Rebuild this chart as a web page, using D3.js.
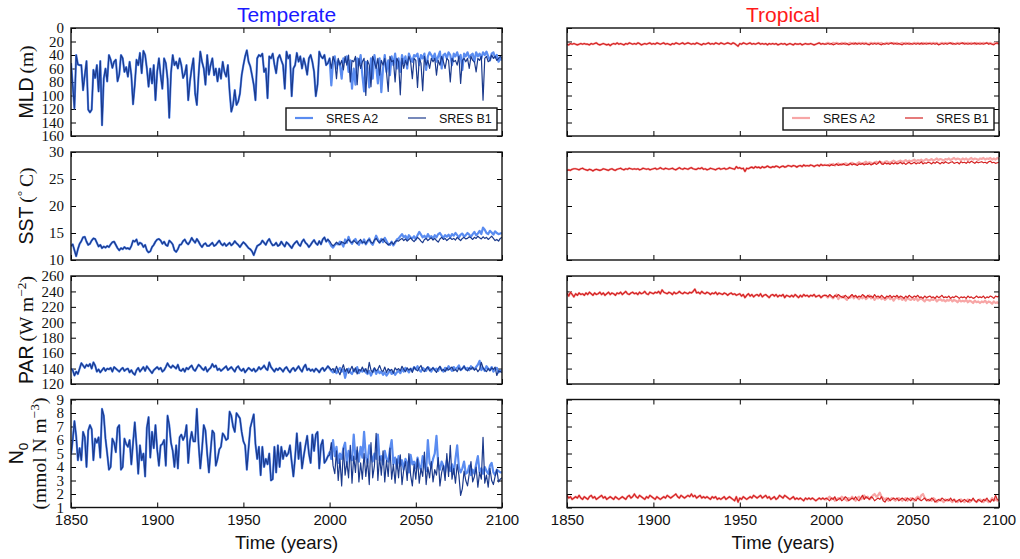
<!DOCTYPE html>
<html>
<head>
<meta charset="utf-8">
<script src="https://cdn.jsdelivr.net/npm/d3@7"></script>
<style>
body { margin: 0; background: #fff; }
</style>
</head>
<body>
<div class="chart"></div>
<script>

var width = 1020,
  height = 559;

// x axis
var firstYear = 1850, lastYear = 2100;
var xTicks = [1850, 1900, 1950, 2000, 2050, 2100];
var colTitles = ['Temperate', 'Tropical'];
var seriesNames = ['SRES A2', 'SRES B1'];

// y ticks per row
var mldTicks = [0, 20, 40, 60, 80, 100, 120, 140, 160];
var sstTicks = [10, 15, 20, 25, 30];
var parTicks = [120, 140, 160, 180, 200, 220, 240, 260];
var n0Ticks = [1, 2, 3, 4, 5, 6, 7, 8, 9];

// ---- TEMPERATE ----  hist = 1850..1999, A2/B1 = 2000..2100
var tmpMldHist = [52,85,119,40,54,55,55,92,70,49, 121,125,121,62,74,55,94,49,144,75,
  60,79,40,47,59,50,47,79,69,40, 45,65,58,72,50,70,113,84,47,55,
  37,67,34,40,60,87,60,82,55,107, 65,45,70,90,45,52,75,133,67,40,
  55,50,60,45,55,74,68,55,107,79, 60,45,97,114,70,35,50,60,84,40,
  69,55,45,70,60,79,60,75,50,65, 72,55,94,124,114,92,114,109,97,70,
  55,42,33,50,57,70,84,107,45,40, 42,38,65,60,104,42,45,38,54,67,
  45,40,48,55,90,35,45,40,101,60, 55,37,50,42,60,45,55,69,45,40,
  50,65,101,84,35,42,45,40,55,52];
var tmpMldA2 = [45,85,50,42,60,48,55,75,45,50, 42,65,48,90,60,84,45,55,40,70,
  94,50,60,88,45,75,40,55,82,45, 95,60,40,65,48,70,42,55,38,60,
  45,65,40,52,42,60,38,45,50,40, 42,38,55,40,45,38,62,42,36,40,
  45,38,50,42,35,60,40,38,45,36, 40,55,38,42,36,45,40,62,38,42,
  36,44,40,38,50,36,42,38,45,36, 40,35,42,48,38,36,44,40,50,45, 48];
var tmpMldB1 = [45,60,42,50,75,45,55,48,62,42, 55,40,80,48,50,42,84,45,60,50,
  45,100,48,55,87,42,50,60,45,70, 48,55,45,65,94,42,50,48,80,45,
  50,99,45,60,48,55,42,50,75,45, 48,88,45,52,93,42,55,48,60,45,
  50,45,70,48,55,42,50,60,45,48, 80,45,50,48,55,42,82,48,45,50,
  45,60,42,48,50,65,45,48,42,107, 45,42,50,48,40,45,42,48,45,42, 45];

var tmpSstHist = [12.6,12.9,11.8,10.7,12.0,13.0,13.5,14.2,14.3,13.4, 12.8,13.0,13.6,14.0,13.9,13.2,12.5,12.8,12.2,12.5,
  12.3,12.6,12.4,12.9,13.3,13.4,12.8,12.2,11.8,12.2, 12.0,12.4,12.1,12.2,12.0,12.6,13.6,13.4,13.8,12.8,
  13.2,13.0,12.4,12.8,11.8,11.4,11.6,12.4,12.8,13.4, 13.8,13.9,13.6,13.0,13.4,12.8,12.6,13.6,13.3,12.9,
  11.8,11.5,12.0,12.8,12.9,13.5,13.8,13.2,12.9,13.4, 14.1,13.6,13.2,13.9,13.4,12.8,12.4,12.9,13.1,12.6,
  12.6,12.9,13.2,12.6,12.8,13.2,13.6,13.0,12.7,13.1, 12.6,12.9,13.2,12.7,13.0,13.5,13.1,12.8,12.4,12.9,
  13.3,13.0,12.6,12.2,12.0,11.6,10.9,11.8,12.6,12.8, 13.0,13.6,13.2,12.8,13.5,13.9,13.2,12.7,12.8,13.2,
  12.6,12.8,13.4,12.9,12.5,13.3,13.0,12.6,12.2,12.8, 13.2,13.5,12.9,12.6,13.4,13.8,13.2,12.9,12.4,12.8,
  13.3,13.7,13.1,12.8,13.5,12.9,13.8,14.2,13.4,13.8];
var tmpSstA2 = [13.2,12.6,12.3,12.8,13.0,12.9,13.4,13.1,12.5,13.8, 13.2,14.3,13.4,13.0,13.6,13.9,13.2,12.8,13.5,13.1,
  13.8,12.9,13.4,14.0,13.2,12.8,13.6,14.5,13.8,13.2, 13.9,13.3,14.1,13.5,12.9,12.8,13.4,12.7,13.2,13.8,
  14.0,14.4,14.8,14.2,14.5,13.8,14.6,14.2,14.0,14.4, 13.8,14.6,15.2,14.7,14.2,14.5,14.0,14.8,14.2,14.4,
  14.0,14.6,14.2,14.8,15.0,14.5,14.1,14.6,14.3,14.7, 14.2,14.8,14.5,15.0,14.6,14.2,14.7,14.9,14.3,14.6,
  15.0,14.7,14.3,14.8,15.2,14.6,14.9,15.4,14.8,16.0, 15.6,15.0,14.8,15.4,15.1,14.7,15.3,15.0,14.8,14.9, 15.0];
var tmpSstB1 = [13.5,13.0,12.6,12.9,13.3,13.0,12.8,13.4,13.2,13.0, 13.5,13.8,13.4,13.2,13.6,13.3,13.0,13.5,13.8,13.2,
  13.4,13.0,13.6,13.8,13.3,13.1,13.7,14.0,13.5,13.2, 13.6,13.9,13.4,13.1,12.8,13.0,13.3,12.9,13.4,13.6,
  13.5,13.8,14.0,13.6,13.9,13.5,13.8,14.1,13.7,13.4, 13.8,14.2,13.9,13.5,13.2,13.8,14.0,13.6,13.9,14.1,
  13.7,14.0,13.6,13.3,13.9,14.2,13.8,14.0,13.6,13.9, 14.1,13.8,14.0,13.7,14.2,13.9,13.6,14.0,14.2,13.9,
  14.0,14.3,14.1,13.8,14.2,14.0,14.4,14.1,13.9,14.3, 14.0,14.2,13.8,14.1,14.4,14.0,13.6,13.8,13.5,14.0, 14.2];

var tmpParHist = [140,138,131,136,133,140,147,144,141,145, 143,146,140,148,144,136,139,135,138,141,
  137,140,139,141,136,142,140,138,136,139, 141,137,139,140,135,138,134,132,138,141,
  136,139,142,137,143,140,137,134,138,140, 142,139,141,136,138,142,147,143,141,144,
  142,140,145,138,137,140,136,141,139,142, 144,139,137,141,145,143,140,138,142,136,
  139,141,146,142,144,138,140,137,139,141, 143,138,140,142,139,136,141,143,139,137,
  140,135,138,141,139,137,140,136,138,142, 139,141,144,140,138,148,142,139,136,140,
  138,141,139,136,140,142,138,135,139,141, 137,140,143,139,136,142,145,138,140,137,
  139,136,140,138,135,139,141,137,140,143];
var tmpParA2 = [140,137,135,139,134,138,141,136,139,128, 137,140,135,133,139,136,142,134,138,136,
  139,135,133,137,131,136,140,133,138,134, 136,132,135,131,134,138,133,136,132,135,
  137,134,139,136,141,138,135,140,137,142, 139,143,138,136,141,139,137,142,140,136,
  141,138,140,137,142,139,136,141,138,143, 140,137,142,139,141,144,138,140,143,139,
  141,138,143,140,139,142,145,150,138,141, 137,143,140,138,142,136,139,141,135,137, 138];
var tmpParB1 = [141,138,140,135,143,137,132,139,145,136, 140,134,138,143,136,141,133,139,137,142,
  136,140,134,148,138,135,141,137,139,144, 138,136,142,135,140,137,139,134,141,138,
  140,137,143,139,136,141,138,140,135,142, 139,137,141,144,138,136,140,142,137,139,
  141,138,135,140,143,137,139,136,141,138, 140,142,137,139,136,141,138,140,143,139,
  137,141,139,142,138,140,136,139,148,141, 138,136,140,137,141,139,142,131,137,136, 135];

var tmpN0Hist = [4.9,6.0,7.4,6.3,4.5,5.4,4.5,6.6,6.2,4.0, 6.7,7.1,6.8,4.5,6.1,5.8,6.2,4.7,8.3,7.8,
  6.1,5.0,3.8,4.0,6.1,5.8,5.1,6.9,7.1,3.8, 4.0,6.1,5.7,5.5,6.0,4.2,5.8,7.3,5.6,3.5,
  5.6,4.5,5.0,3.3,6.9,7.7,4.7,6.6,5.4,7.1, 5.3,4.1,5.6,5.7,6.0,4.1,7.8,7.1,5.8,5.2,
  4.0,5.6,3.9,6.2,6.4,6.0,6.3,7.1,4.3,5.9, 6.6,5.9,5.9,8.3,5.7,3.9,5.3,7.1,6.7,5.0,
  3.6,5.2,6.7,6.5,4.1,4.6,5.3,5.5,6.5,6.3, 6.0,6.1,8.1,7.8,7.0,6.6,8.0,7.8,7.6,6.6,
  5.9,5.6,3.8,5.4,6.9,7.4,7.9,5.7,4.6,5.5, 3.4,5.5,4.0,4.6,4.2,5.0,3.0,3.1,5.5,3.6,
  5.6,4.0,5.5,4.6,5.2,4.8,5.0,5.6,4.4,3.3, 4.7,6.5,4.6,5.8,3.9,4.8,5.6,6.3,5.0,4.3,
  6.4,5.2,6.4,6.6,3.9,5.6,6.0,4.3,4.5,4.8];
var tmpN0A2 = [5.1,4.6,6.0,4.8,5.5,4.3,5.0,4.6,5.4,5.8, 4.2,5.2,4.8,4.5,6.4,4.6,5.2,4.4,5.5,4.7,
  6.6,4.8,4.3,5.6,4.9,4.4,5.0,4.6,6.4,4.5, 4.8,4.2,5.2,4.6,4.4,5.3,6.0,4.2,4.7,3.9,
  4.8,4.1,4.5,3.8,4.6,4.3,3.6,4.9,4.2,4.4, 3.9,4.7,4.1,3.8,4.8,4.2,3.7,6.0,4.3,4.0,
  4.6,5.0,6.3,4.2,3.8,4.4,4.1,3.6,4.5,4.0, 3.7,4.2,3.5,4.6,5.6,4.0,3.6,3.9,4.4,3.5,
  3.6,4.1,3.4,3.8,3.5,4.2,4.8,3.6,3.9,3.5, 4.0,3.7,3.5,4.1,4.3,3.6,3.4,3.8,3.7,3.6, 3.6];
var tmpN0B1 = [4.9,5.8,4.1,3.5,5.2,3.0,4.6,2.6,5.4,3.4, 4.4,3.2,5.6,2.8,4.8,3.6,5.5,2.9,4.3,3.1,
  5.0,3.3,4.6,2.7,5.8,3.2,4.1,6.5,3.0,4.8, 3.4,5.2,2.9,4.5,3.3,5.4,3.1,4.2,2.8,4.6,
  3.2,4.9,2.7,3.8,4.4,3.0,5.0,3.4,2.6,4.2, 3.1,4.6,2.8,3.9,3.3,5.1,2.7,4.0,3.2,4.4,
  2.9,3.8,3.4,4.7,2.6,3.6,4.1,3.0,5.0,3.3, 5.6,3.1,3.9,2.8,4.2,3.4,1.9,2.4,3.7,3.0,
  2.6,3.5,4.4,2.9,3.3,4.0,2.5,3.6,3.1,6.2, 2.8,3.4,2.5,3.9,3.0,2.7,3.3,3.8,2.9,3.1, 3.2];

// ---- TROPICAL ----
var trpMldHist = [24,25,23,24,23,24,25,24,23,24, 23,24,24,25,23,24,23,22,24,25,
  24,23,24,25,24,26,24,23,24,22, 24,23,24,25,23,24,22,23,24,23,
  24,22,23,25,24,23,24,23,22,24, 23,24,22,23,24,23,22,24,23,24,
  25,23,24,22,23,24,23,22,24,23, 22,23,24,23,24,22,23,24,25,23,
  24,23,22,24,23,24,22,23,24,22, 23,24,23,22,23,24,22,23,25,27,
  23,24,22,23,24,23,22,24,23,24, 23,22,24,23,24,23,25,23,24,23,
  24,23,25,24,23,24,23,25,24,23, 24,25,23,24,24,23,25,24,23,24,
  24,23,24,25,24,23,22,24,23,24];
var trpMldA2 = [23,22,23,24,22,23,22,23,24,22, 23,22,24,23,22,23,22,24,23,22,
  23,22,23,22,24,23,22,23,22,23, 22,23,22,24,23,22,23,22,23,22,
  23,22,24,23,22,23,22,23,22,24, 23,22,23,22,23,24,22,23,22,23,
  22,23,22,23,22,24,23,22,23,22, 23,22,23,22,24,23,22,23,22,23,
  22,23,22,23,22,23,24,22,23,22, 23,22,23,22,23,22,24,23,22,23, 22];
var trpMldB1 = [24,23,24,23,25,24,23,24,23,24, 23,24,23,25,24,23,24,22,24,23,
  24,23,24,23,24,25,23,24,23,24, 23,24,25,23,24,23,24,23,22,24,
  23,24,23,24,25,23,24,23,24,23, 24,23,24,23,24,22,24,23,24,23,
  23,24,23,24,23,25,24,23,24,23, 24,23,22,24,23,24,23,24,23,22,
  24,23,24,23,24,23,22,24,23,24, 23,24,23,22,24,23,24,25,23,22, 24];

var trpSstHist = [26.6,26.7,26.6,26.8,26.9,26.9,26.8,26.7,26.9,27.0, 26.8,26.7,26.6,26.8,26.7,26.5,26.7,26.8,26.7,26.6,
  26.7,26.9,26.8,26.7,26.6,26.8,26.9,26.7,26.6,26.8, 26.9,27.0,26.8,26.7,26.9,26.8,27.0,26.9,26.8,26.9,
  26.8,26.9,26.7,26.8,27.0,26.9,26.8,26.9,26.7,26.8, 26.9,27.0,26.8,26.9,27.1,26.9,26.8,27.0,26.9,26.8,
  26.9,27.0,26.8,26.7,26.9,27.1,26.9,26.8,27.0,26.9, 26.8,27.0,27.1,26.9,26.8,26.8,27.0,26.9,27.1,26.8,
  26.9,26.7,26.8,27.0,26.9,26.8,26.7,26.9,27.0,26.8, 26.9,27.0,26.8,26.9,27.1,27.0,26.9,26.8,27.3,27.0,
  27.1,26.9,27.0,26.4,27.0,26.9,27.1,27.2,27.0,27.3, 27.1,27.2,27.0,27.3,27.1,27.2,27.4,27.2,27.1,27.3,
  27.2,27.4,27.3,27.1,27.3,27.4,27.2,27.3,27.5,27.4, 27.3,27.5,27.4,27.2,27.4,27.5,27.3,27.6,27.4,27.5,
  27.4,27.6,27.5,27.3,27.5,27.6,27.4,27.7,27.5,27.6];
var trpSstA2 = [27.6,27.5,27.7,27.6,27.8,27.5,27.7,27.9,27.6,27.8, 27.7,27.9,27.8,27.6,27.9,28.0,27.8,27.7,27.9,28.1,
  27.9,27.8,28.0,28.2,27.9,28.1,28.0,27.8,28.1,28.2, 28.0,28.2,28.1,27.9,28.2,28.3,28.1,28.0,28.2,28.4,
  28.2,28.1,28.3,28.4,28.2,28.3,28.5,28.2,28.4,28.3, 28.4,28.6,28.3,28.5,28.4,28.6,28.3,28.5,28.7,28.4,
  28.5,28.7,28.4,28.6,28.8,28.5,28.7,28.6,28.4,28.7, 28.6,28.8,28.5,28.7,28.9,28.6,28.8,28.7,28.5,28.8,
  28.6,28.8,28.5,28.7,28.9,28.6,28.8,28.7,28.5,28.8, 28.7,28.9,28.6,28.8,28.7,28.9,28.6,28.8,28.6,28.9, 28.7];
var trpSstB1 = [27.5,27.6,27.4,27.7,27.5,27.6,27.8,27.5,27.7,27.6, 27.8,27.6,27.5,27.7,27.9,27.6,27.8,27.7,27.5,27.8,
  27.7,27.9,27.6,27.8,27.7,27.9,27.6,27.8,28.0,27.7, 27.9,28.3,27.8,27.7,28.0,27.8,27.9,27.7,28.0,27.8,
  28.0,27.8,27.9,28.1,27.8,28.0,27.7,27.9,28.1,27.8, 27.9,28.1,27.8,28.0,27.9,28.2,27.8,28.0,27.9,28.1,
  28.0,27.8,28.1,27.9,28.2,28.0,27.8,28.1,27.9,28.2, 28.0,27.9,28.1,28.2,27.9,28.0,28.1,27.8,28.2,28.0,
  28.1,27.9,28.2,28.0,28.3,28.1,27.9,28.2,28.0,28.1, 28.2,28.0,28.1,27.9,28.2,28.3,28.0,28.1,27.9,28.0, 28.1];

var trpParHist = [238,234,239,236,233,237,235,238,236,237, 235,238,236,239,237,235,238,236,237,239,
  236,238,235,237,239,236,238,237,235,238, 237,239,236,238,240,237,236,238,239,237,
  238,236,239,237,238,240,237,236,239,238, 237,239,238,240,237,242,239,238,237,239,
  238,236,239,237,238,240,238,237,239,238, 237,239,238,240,243,238,239,237,240,238,
  237,239,238,236,238,237,239,236,238,237, 236,238,237,235,237,238,236,237,235,236,
  237,234,236,232,235,237,234,236,233,235, 236,234,237,233,235,236,234,232,235,236,
  234,236,233,235,234,236,232,235,234,233, 235,233,236,234,232,235,233,236,234,235,
  233,235,234,236,233,234,235,232,234,235];
var trpParA2 = [234,232,235,233,231,234,236,230,233,232, 234,231,229,233,232,235,231,234,232,230,
  233,231,234,230,232,235,231,233,229,232, 231,233,230,232,229,231,233,230,232,228,
  231,233,230,232,229,231,228,232,230,229, 231,229,232,228,230,231,229,227,230,229,
  228,230,229,231,227,229,230,228,229,227, 229,228,230,227,229,228,226,229,227,228,
  227,229,226,228,227,225,228,226,227,225, 227,226,228,225,227,226,224,227,225,226, 224];
var trpParB1 = [235,233,236,234,232,235,233,236,234,233, 232,235,233,231,234,236,233,235,232,234,
  233,236,234,232,235,233,234,232,236,233, 234,232,235,233,231,234,233,235,232,234,
  233,235,232,234,233,231,234,232,235,233, 232,234,233,235,232,233,231,234,232,233,
  234,232,233,231,234,232,233,235,232,233, 232,234,231,233,232,234,233,231,233,232,
  233,231,234,232,233,231,232,234,232,233, 232,234,231,233,232,234,233,231,234,233, 234];

var trpN0Hist = [1.9,1.7,1.8,1.6,1.7,1.8,1.7,1.9,1.7,1.6, 1.8,1.7,1.6,1.8,1.9,1.7,1.8,1.6,1.7,1.8,
  1.9,1.7,1.8,1.6,1.7,1.8,1.7,1.6,1.8,1.7, 1.6,1.7,1.8,1.7,1.6,1.8,1.9,1.7,1.8,2.0,
  1.8,1.7,1.9,1.8,1.7,1.6,1.8,1.7,1.9,1.8, 1.7,1.6,1.8,1.7,1.6,1.7,1.8,1.7,1.9,1.8,
  1.7,1.8,1.9,2.0,1.8,1.7,1.9,1.8,1.7,1.8, 1.9,1.8,2.0,1.8,1.9,1.7,1.8,1.9,1.7,1.8,
  1.7,1.8,1.7,1.6,1.8,1.7,1.8,1.6,1.7,1.6, 1.7,1.8,1.6,1.7,1.8,1.7,1.6,1.5,1.8,1.4,
  1.7,1.6,1.8,1.7,1.6,1.7,1.8,1.7,1.9,1.8, 1.7,1.8,1.9,1.7,1.8,1.9,1.7,1.8,1.6,1.7,
  1.8,1.6,1.7,1.9,1.8,1.7,1.9,1.8,1.7,1.6, 1.7,1.8,1.6,1.7,1.6,1.7,1.6,1.5,1.7,1.6,
  1.7,1.6,1.7,1.6,1.5,1.6,1.7,1.6,1.7,1.6];
var trpN0A2 = [1.6,1.7,1.8,1.6,1.7,1.5,1.6,1.7,1.6,1.8, 1.7,1.6,1.5,1.7,1.6,1.8,1.6,1.5,1.7,1.8,
  1.6,1.7,1.9,1.7,1.8,1.6,1.7,1.9,2.0,1.8, 1.9,2.1,1.8,1.7,1.6,1.7,1.5,1.6,1.7,1.6,
  1.5,1.6,1.7,1.6,1.5,1.6,1.7,1.5,1.6,1.7, 1.6,1.5,1.7,1.8,1.6,1.9,2.0,1.7,1.6,1.5,
  1.6,1.5,1.7,1.6,1.4,1.5,1.6,1.5,1.4,1.6, 1.5,1.6,1.5,1.4,1.6,1.5,1.4,1.5,1.6,1.5,
  1.4,1.5,1.6,1.4,1.5,1.6,1.5,1.4,1.5,1.6, 1.5,1.4,1.6,1.5,1.4,1.5,1.7,1.5,1.6,1.5, 1.6];
var trpN0B1 = [1.7,1.6,1.5,1.7,1.6,1.8,1.5,1.6,1.7,1.5, 1.6,1.8,1.7,1.5,1.6,1.7,1.6,1.8,1.6,1.5,
  1.7,1.9,1.6,1.8,1.7,1.6,1.8,1.7,1.5,1.6, 1.7,1.6,1.8,1.5,1.4,1.6,1.7,1.5,1.6,1.7,
  1.6,1.7,1.5,1.6,1.7,1.6,1.5,1.7,1.6,1.5, 1.7,1.6,1.5,1.7,1.6,1.5,1.6,1.7,1.5,1.6,
  1.5,1.7,1.6,1.4,1.5,1.6,1.5,1.7,1.6,1.5, 1.6,1.5,1.7,1.5,1.6,1.4,1.5,1.6,1.4,1.5,
  1.6,1.5,1.4,1.6,1.5,1.7,1.5,1.4,1.6,1.5, 1.4,1.6,1.5,1.7,1.5,1.4,1.6,1.5,1.9,1.6, 1.5];

//LAYOUT
var cols = [
  {x0: 71, x1: 502, titleColor: '#1a1aff', a2: '#5a8cf0', b1: '#1b3a8c', labels: true},
  {x0: 567, x1: 999, titleColor: '#ff1a1a', a2: '#f7a6a6', b1: '#d42222', labels: false}
];
var rowTop = [28, 152, 276, 399.5],
  rowH = 108;

// rows: y domain, ticks, axis label pieces, data [col][hist,a2,b1]
var rows = [
  {domain: [160, 0], ticks: mldTicks,
    label: [[['MLD', 'sans'], ['\u2009(m)', 'serif']]],
    data: [[tmpMldHist, tmpMldA2, tmpMldB1], [trpMldHist, trpMldA2, trpMldB1]]},
  {domain: [10, 30], ticks: sstTicks,
    label: [[['SST', 'sans'], ['\u2009(', 'serif'], ['\u00b0', 'sup'], ['\u2009C)', 'serifdown']]],
    data: [[tmpSstHist, tmpSstA2, tmpSstB1], [trpSstHist, trpSstA2, trpSstB1]]},
  {domain: [120, 260], ticks: parTicks,
    label: [[['PAR', 'sans'], ['\u2009(W m', 'serif'], ['\u22122', 'sup'], [')', 'serifdown']]],
    data: [[tmpParHist, tmpParA2, tmpParB1], [trpParHist, trpParA2, trpParB1]]},
  {domain: [1, 9], ticks: n0Ticks,
    label: [[['N', 'sans'], ['0', 'sub']], [['(mmol N m', 'serif'], ['\u22123', 'sup'], [')', 'serifdown']]],
    data: [[tmpN0Hist, tmpN0A2, tmpN0B1], [trpN0Hist, trpN0A2, trpN0B1]]}
];

var SANS = 'Liberation Sans, Arial, sans-serif',
  SERIF = 'Liberation Serif, Times New Roman, serif';

var svg = d3.select('.chart')
  .append('svg')
  .attr('width', width)
  .attr('height', height)
  .style('background', '#fff');

//TITLES
cols.forEach(function(c, ci) {
  svg.append('text')
    .attr('x', (c.x0 + c.x1) / 2)
    .attr('y', 22)
    .attr('text-anchor', 'middle')
    .style('font-family', SANS)
    .style('font-size', '21px')
    .style('fill', c.titleColor)
    .text(colTitles[ci]);
});

function styleAxis(g, showText, fontFamily, fontSize) {
  g.select('.domain').remove();
  g.selectAll('.tick line').attr('stroke', '#000').attr('stroke-width', 1);
  g.selectAll('.tick text')
    .style('font-family', fontFamily)
    .style('font-size', fontSize)
    .style('fill', '#111')
    .style('display', showText ? null : 'none');
}

//PANELS
rows.forEach(function(r, ri) {
  var top = rowTop[ri];
  cols.forEach(function(c, ci) {
    var xScale = d3.scaleLinear().domain([firstYear, lastYear]).range([c.x0, c.x1]);
    var yScale = d3.scaleLinear().domain(r.domain).range([top + rowH, top]);

    var g = svg.append('g');

    var xb = d3.axisBottom(xScale).tickValues(xTicks).tickSize(-5).tickPadding(7).tickFormat(d3.format('d'));
    var xt = d3.axisTop(xScale).tickValues(xTicks).tickSize(-5).tickFormat('');
    var yl = d3.axisLeft(yScale).tickValues(r.ticks).tickSize(-5).tickPadding(7).tickFormat(d3.format('d'));
    var yr = d3.axisRight(yScale).tickValues(r.ticks).tickSize(-5).tickFormat('');

    g.append('g').attr('transform', 'translate(0,' + (top + rowH) + ')').call(xb)
      .call(styleAxis, ri === rows.length - 1, SANS, '15px');
    g.append('g').attr('transform', 'translate(0,' + top + ')').call(xt).call(styleAxis, false, SANS, '15px');
    g.append('g').attr('transform', 'translate(' + c.x0 + ',0)').call(yl)
      .call(styleAxis, c.labels, SERIF, '15px');
    g.append('g').attr('transform', 'translate(' + c.x1 + ',0)').call(yr).call(styleAxis, false, SERIF, '15px');

    // clip to the frame
    var clipId = 'clip' + ri + ci;
    svg.append('clipPath').attr('id', clipId)
      .append('rect').attr('x', c.x0).attr('y', top).attr('width', c.x1 - c.x0).attr('height', rowH);

    var line = d3.line()
      .x(function(d, i) { return xScale(firstYear + i); })
      .y(function(d) { return yScale(d); });

    var hist = r.data[ci][0];
    var a2 = hist.concat(r.data[ci][1]);
    var b1 = hist.concat(r.data[ci][2]);

    var lg = g.append('g').attr('clip-path', 'url(#' + clipId + ')');
    lg.append('path').datum(a2).attr('d', line)
      .attr('fill', 'none').attr('stroke', c.a2).attr('stroke-width', 2.2).attr('stroke-linejoin', 'round');
    lg.append('path').datum(b1).attr('d', line)
      .attr('fill', 'none').attr('stroke', c.b1).attr('stroke-width', 1.2).attr('stroke-linejoin', 'round');

    // frame
    g.append('rect')
      .attr('x', c.x0).attr('y', top)
      .attr('width', c.x1 - c.x0).attr('height', rowH)
      .attr('fill', 'none').attr('stroke', '#111').attr('stroke-width', 1.4);

    //LEGEND in the top row
    if (ri === 0) {
      var lx = c.x1 - 216, ly = 108;
      var leg = g.append('g');
      leg.append('rect').attr('x', lx).attr('y', ly).attr('width', 211).attr('height', 22)
        .attr('fill', '#fff').attr('stroke', '#111').attr('stroke-width', 1.4);
      [[c.a2, 2.2], [c.b1, 1.2]].forEach(function(s, si) {
        var sx = lx + 9 + si * 113;
        leg.append('line').attr('x1', sx).attr('x2', sx + 18).attr('y1', ly + 10).attr('y2', ly + 10)
          .attr('stroke', s[0]).attr('stroke-width', s[1]);
        leg.append('text').attr('x', sx + 31).attr('y', ly + 14.5)
          .style('font-family', SANS).style('font-size', '12.5px').style('fill', '#111')
          .text(seriesNames[si]);
      });
    }
  });

  // Y LABEL
  var cy = top + rowH / 2;
  var baseX = r.label.length > 1 ? [23, 46] : [33];
  r.label.forEach(function(lineParts, li) {
    var t = svg.append('text')
      .attr('transform', 'translate(' + baseX[li] + ',' + cy + ') rotate(-90)')
      .attr('text-anchor', 'middle')
      .style('fill', '#111');
    lineParts.forEach(function(p) {
      var ts = t.append('tspan').text(p[0]);
      var kind = p[1];
      if (kind === 'sans') ts.style('font-family', SANS).style('font-size', '19.5px');
      if (kind === 'serif') ts.style('font-family', SERIF).style('font-size', '19.5px');
      if (kind === 'serifdown') ts.style('font-family', SERIF).style('font-size', '19.5px').attr('dy', 7);
      if (kind === 'sup') ts.style('font-family', SERIF).style('font-size', '13.5px').attr('dy', -7);
      if (kind === 'sub') ts.style('font-family', SANS).style('font-size', '13.5px').attr('dy', 5);
    });
  });
});

//X LABELS
cols.forEach(function(c) {
  svg.append('text')
    .attr('x', (c.x0 + c.x1) / 2)
    .attr('y', 549)
    .attr('text-anchor', 'middle')
    .style('font-family', SANS)
    .style('font-size', '18.5px')
    .style('fill', '#111')
    .text('Time (years)');
});

</script>
</body>
</html>
